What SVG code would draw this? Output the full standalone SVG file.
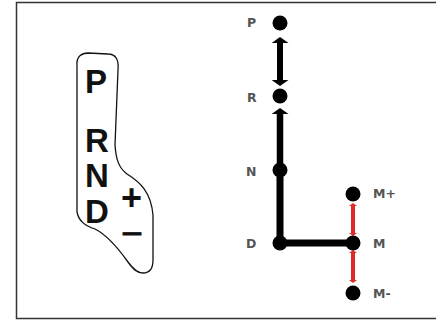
<svg xmlns="http://www.w3.org/2000/svg" width="436" height="323" viewBox="0 0 436 323">
<style>
.lbl{font-family:"DejaVu Sans","Liberation Sans",sans-serif;font-weight:bold;font-size:12.5px;fill:#555}
.big{font-family:"Liberation Sans",Arial,sans-serif;font-weight:bold;font-size:33px;fill:#111}
.sym{font-family:"Liberation Sans",Arial,sans-serif;font-weight:bold;fill:#111}
.dot{fill:#000}
.blk{stroke:#000;fill:none}
.red{stroke:#e02b2b;stroke-width:4;fill:none}
</style>
<defs>
<marker id="ah" markerUnits="userSpaceOnUse" viewBox="0 0 6 17" refX="0" refY="8.5" markerWidth="6" markerHeight="17" orient="auto-start-reverse">
<path d="M0,0 L6,8.5 L0,17 Z" fill="#000"/>
</marker>
<marker id="rh" markerUnits="userSpaceOnUse" viewBox="0 0 3 8" refX="0" refY="4" markerWidth="3" markerHeight="8" orient="auto-start-reverse">
<path d="M0,0 L3,4 L0,8 Z" fill="#e02b2b"/>
</marker>
</defs>
<rect x="16.5" y="2.5" width="430" height="316" fill="#fff" stroke="#333" stroke-width="1.5"/>
<g id="shifter">
<path d="M77,66 C76,56 82,53 88,53 L108,54 C116,54 119,60 118,70 L115,145 C116,160 119,168 127,174 C140,182 151,192 153,215 L153,260 C153,269 149,273 143,273 C137,273 133,269 128,262 C118,248 105,234 95,229 C86,226 79,222 77,212 Z" fill="none" stroke="#111" stroke-width="1.3"/>
<text class="big" x="85" y="93">P</text>
<text class="big" x="85" y="152">R</text>
<text class="big" x="85" y="187">N</text>
<text class="big" x="85" y="223">D</text>
<text class="sym" x="121" y="210" font-size="36">+</text>
<text class="sym" x="122" y="240" font-size="24" textLength="20" lengthAdjust="spacingAndGlyphs" stroke="#111" stroke-width="0.8">–</text>
</g>
<g id="connectors">
<line class="blk" x1="280" y1="43" x2="280" y2="80" stroke-width="6" marker-start="url(#ah)" marker-end="url(#ah)"/>
<line class="blk" x1="280" y1="170" x2="280" y2="114" stroke-width="6.5" marker-end="url(#ah)"/>
<line class="blk" x1="280" y1="170" x2="280" y2="246" stroke-width="7"/>
<line class="blk" x1="277" y1="243" x2="353" y2="243" stroke-width="7"/>
<line class="red" x1="353" y1="206" x2="353" y2="233" marker-start="url(#rh)" marker-end="url(#rh)"/>
<line class="red" x1="353" y1="253" x2="353" y2="280" marker-start="url(#rh)" marker-end="url(#rh)"/>
</g>
<g id="node-P"><circle class="dot" cx="280" cy="23" r="7.5"/><text class="lbl" x="247" y="27">P</text></g>
<g id="node-R"><circle class="dot" cx="280" cy="96" r="7.5"/><text class="lbl" x="247" y="102">R</text></g>
<g id="node-N"><circle class="dot" cx="280" cy="170" r="7.5"/><text class="lbl" x="246" y="176">N</text></g>
<g id="node-D"><circle class="dot" cx="280" cy="243" r="7.5"/><text class="lbl" x="246" y="248">D</text></g>
<g id="node-M"><circle class="dot" cx="353" cy="243" r="7.5"/><text class="lbl" x="373" y="248">M</text></g>
<g id="node-Mplus"><circle class="dot" cx="353" cy="194" r="7.5"/><text class="lbl" x="373" y="198">M+</text></g>
<g id="node-Mminus"><circle class="dot" cx="353" cy="293" r="7.5"/><text class="lbl" x="373" y="298">M-</text></g>
</svg>
